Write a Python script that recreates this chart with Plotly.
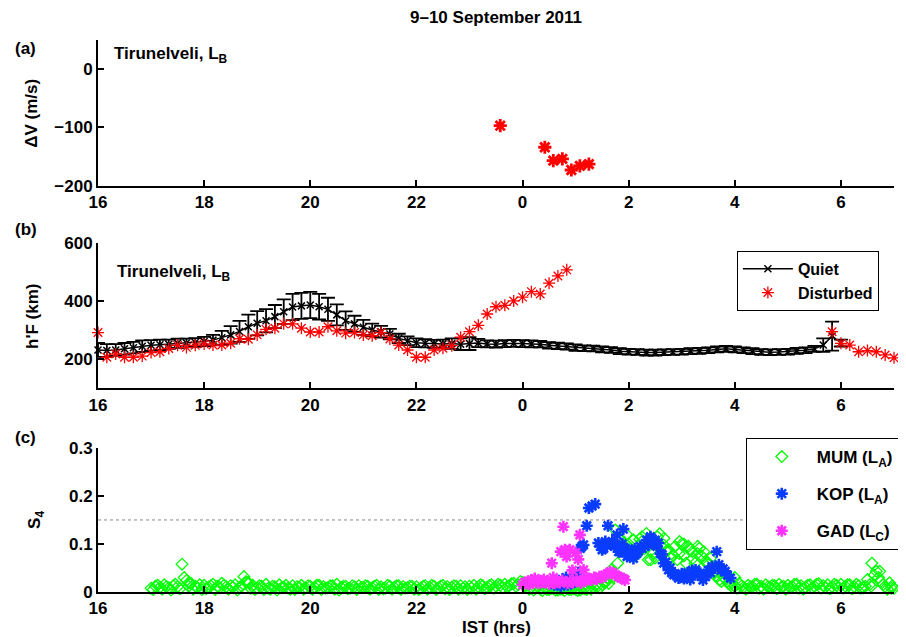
import plotly.graph_objects as go

# ---------------- data ----------------
tick_vals = [16, 18, 20, 22, 24, 26, 28, 30]
tick_text = ["16", "18", "20", "22", "0", "2", "4", "6"]

# (a) Delta V, Tirunelveli
dv_time = [23.58, 24.42, 24.58, 24.75, 24.92, 25.08, 25.25]
dv_vals = [-97, -134, -157, -154, -173, -166, -163]

# (b) h'F quiet (10-min, 16:00 -> 06:00)
quiet_start, quiet_step = 16.0, 1 / 6
quiet_hf = [232, 230, 232, 236, 240, 245, 248, 250, 252, 255, 256, 258,
            261, 266, 274, 284, 296, 312, 324, 333, 347, 364, 380, 384,
            387, 381, 372, 353, 333, 322, 310, 301, 295, 287, 272, 264,
            257, 255, 253, 253, 254, 252, 254, 256, 253, 252, 254, 255,
            254, 253, 252, 248, 246, 244, 240, 238, 237, 234, 232, 228,
            226, 225, 223, 223, 224, 225, 226, 228, 229, 231, 234, 236,
            234, 231, 228, 225, 224, 225, 226, 229, 231, 236, 249, 280, 256]
quiet_err = [24, 22, 20, 20, 20, 20, 18, 18, 16, 16, 15, 15,
             16, 18, 24, 30, 36, 42, 42, 40, 40, 42, 45, 45,
             45, 44, 40, 36, 32, 28, 26, 22, 20, 18, 16, 15,
             15, 14, 14, 15, 18, 20, 22, 14, 12, 12, 12, 12,
             12, 12, 11, 11, 11, 11, 11, 10, 10, 10, 10, 10,
             10, 10, 10, 10, 10, 10, 10, 10, 10, 10, 10, 10,
             10, 10, 10, 10, 10, 10, 10, 10, 10, 10, 23, 50, 12]

# (b) h'F disturbed (10-min)
dist_start1 = 16.0
dist_hf1 = [292, 207, 218, 207, 207, 211, 223, 226, 237, 248, 241, 248,
            253, 249, 249, 255, 271, 269, 284, 303, 307, 322, 322, 307,
            294, 294, 312, 298, 290, 292, 284, 281, 292, 270, 249, 232,
            207, 207, 232, 238, 247, 276, 295, 317, 356, 381, 386, 401,
            414, 433, 425, 462, 487, 508]
dist_start2 = 29 + 5 / 6
dist_hf2 = [295, 255, 249, 226, 230, 226, 215, 205]

# (c) S4 MUM (5-min samples from 17:00, plus interleaved samples from 17:02:30)
mum_start, mum_step = 17.0, 1 / 12
mum_s4 = [
    0.008, 0.012, 0.010, 0.015, 0.009, 0.013, 0.011, 0.058, 0.024, 0.018, 0.012, 0.015,
    0.014, 0.010, 0.016, 0.012, 0.018, 0.011, 0.013, 0.015, 0.010, 0.032, 0.020, 0.014,
    0.009, 0.012, 0.016, 0.006, 0.011, 0.015, 0.010, 0.008, 0.013, 0.011, 0.014, 0.009,
    0.012, 0.010, 0.014, 0.011, 0.009, 0.013, 0.016, 0.010, 0.012, 0.008, 0.011, 0.013,
    0.010, 0.012, 0.009, 0.014, 0.011, 0.008, 0.012, 0.010, 0.013, 0.011, 0.009, 0.012,
    0.011, 0.008, 0.013, 0.010, 0.012, 0.009, 0.014, 0.011, 0.010, 0.012, 0.013, 0.011,
    0.012, 0.014, 0.011, 0.013, 0.010, 0.015, 0.012, 0.014, 0.016, 0.013, 0.018, 0.015,
    0.020, 0.014, 0.010, 0.008, 0.006, 0.009, 0.005, 0.007, 0.004, 0.006, 0.008, 0.005,
    0.006, 0.004, 0.007, 0.009, 0.010, 0.012, 0.015, 0.022, 0.046, 0.129, 0.112, 0.095,
    0.100, 0.108, 0.081, 0.105, 0.122, 0.067, 0.071, 0.121, 0.112, 0.088, 0.077, 0.067,
    0.100, 0.060, 0.088, 0.060, 0.091, 0.084, 0.057, 0.039, 0.032, 0.022, 0.026, 0.015,
    0.012, 0.018, 0.010, 0.014, 0.011, 0.016, 0.012, 0.015, 0.010, 0.013, 0.016, 0.012,
    0.014, 0.011, 0.016, 0.013, 0.010, 0.015, 0.012, 0.017, 0.013, 0.015, 0.011, 0.014,
    0.016, 0.012, 0.015, 0.011, 0.013, 0.009, 0.026, 0.060, 0.043, 0.022, 0.012, 0.019,
    0.008]
mum_start_b = 17.0 + 1 / 24
mum_s4_b = [
    0.005, 0.014, 0.006, 0.011, 0.004, 0.016, 0.007, 0.030, 0.012, 0.006, 0.009, 0.005,
    0.007, 0.013, 0.005, 0.009, 0.014, 0.006, 0.010, 0.004, 0.012, 0.022, 0.008, 0.005,
    0.013, 0.005, 0.008, 0.012, 0.004, 0.009, 0.014, 0.006, 0.005, 0.010, 0.006, 0.013,
    0.006, 0.014, 0.005, 0.008, 0.013, 0.006, 0.004, 0.012, 0.007, 0.013, 0.005, 0.009,
    0.013, 0.006, 0.012, 0.005, 0.007, 0.014, 0.006, 0.013, 0.005, 0.008, 0.012, 0.006,
    0.005, 0.012, 0.006, 0.014, 0.005, 0.012, 0.007, 0.005, 0.013, 0.006, 0.008, 0.005,
    0.008, 0.006, 0.015, 0.007, 0.013, 0.008, 0.016, 0.009, 0.011, 0.017, 0.012, 0.022,
    0.012, 0.006, 0.004, 0.010, 0.003, 0.005, 0.008, 0.004, 0.006, 0.003, 0.005, 0.007,
    0.003, 0.008, 0.005, 0.006, 0.013, 0.009, 0.020, 0.018, 0.030, 0.060, 0.100, 0.120,
    0.090, 0.075, 0.110, 0.090, 0.100, 0.080, 0.115, 0.095, 0.085, 0.070, 0.095, 0.105,
    0.075, 0.095, 0.070, 0.080, 0.075, 0.065, 0.070, 0.045, 0.025, 0.030, 0.018, 0.010,
    0.008, 0.012, 0.006, 0.011, 0.016, 0.008, 0.006, 0.011, 0.014, 0.007, 0.010, 0.006,
    0.010, 0.016, 0.008, 0.006, 0.014, 0.009, 0.016, 0.008, 0.010, 0.007, 0.016, 0.009,
    0.008, 0.015, 0.007, 0.016, 0.008, 0.012, 0.015, 0.035, 0.030, 0.015, 0.006, 0.012]
mum_extra_t = [17.71, 18.80, 25.55, 25.60, 25.84, 26.09, 26.25, 26.37, 26.50, 26.66,
               26.95, 27.04, 27.20, 27.30, 27.48, 27.55, 28.00, 30.42, 30.57, 30.73, 30.95]
mum_extra_v = [0.019, 0.020, 0.020, 0.030, 0.112, 0.108, 0.115, 0.067, 0.100, 0.098,
               0.080, 0.100, 0.084, 0.095, 0.060, 0.050, 0.030, 0.009, 0.012, 0.043, 0.008]

# (c) S4 KOP
kop_t = [24.60, 24.65, 24.68, 24.72, 24.75, 24.78, 24.82, 24.85, 24.88, 24.92,
         24.96, 25.00, 25.02, 25.05, 25.09, 25.12, 25.15, 25.21, 25.25, 25.31,
         25.37, 25.43, 25.47, 25.50, 25.53, 25.56, 25.61, 25.65, 25.69, 25.73,
         25.78, 25.81, 25.84, 25.88, 25.90, 25.94, 25.97, 26.00, 26.04, 26.09,
         26.12, 26.15, 26.18, 26.22, 26.25, 26.31, 26.34, 26.37, 26.41, 26.44,
         26.47, 26.50, 26.53, 26.56, 26.60, 26.63, 26.66, 26.70, 26.75, 26.78,
         26.81, 26.85, 26.90, 26.94, 27.00, 27.04, 27.07, 27.11, 27.16, 27.20,
         27.23, 27.26, 27.30, 27.35, 27.40, 27.45, 27.50, 27.54, 27.57, 27.62,
         27.66, 27.70, 27.74, 27.78, 27.82, 27.86, 27.92]
kop_s4 = [0.015, 0.020, 0.019, 0.012, 0.026, 0.022, 0.030, 0.015, 0.024, 0.018,
          0.022, 0.030, 0.027, 0.040, 0.091, 0.095, 0.098, 0.138, 0.175, 0.179,
          0.183, 0.102, 0.095, 0.088, 0.091, 0.105, 0.138, 0.100, 0.105, 0.095,
          0.119, 0.084, 0.084, 0.100, 0.131, 0.090, 0.074, 0.077, 0.085, 0.070,
          0.090, 0.080, 0.084, 0.095, 0.091, 0.095, 0.108, 0.098, 0.115, 0.110,
          0.102, 0.108, 0.095, 0.102, 0.080, 0.078, 0.060, 0.062, 0.046, 0.050,
          0.040, 0.036, 0.035, 0.029, 0.038, 0.028, 0.032, 0.040, 0.026, 0.045,
          0.040, 0.046, 0.036, 0.039, 0.025, 0.032, 0.045, 0.040, 0.053, 0.050,
          0.084, 0.057, 0.045, 0.048, 0.043, 0.035, 0.029]

# (c) S4 GAD
gad_t = [24.00, 24.04, 24.07, 24.10, 24.13, 24.17, 24.20, 24.23, 24.27, 24.30,
         24.33, 24.37, 24.40, 24.43, 24.47, 24.50, 24.55, 24.58, 24.60, 24.65,
         24.70, 24.72, 24.75, 24.77, 24.80, 24.83, 24.85, 24.89, 24.90, 24.94,
         24.95, 25.00, 25.02, 25.05, 25.08, 25.10, 25.15, 25.17, 25.20, 25.25,
         25.30, 25.35, 25.40, 25.45, 25.50, 25.55, 25.60, 25.65, 25.70, 25.75,
         25.80, 25.85, 25.90, 25.93]
gad_s4 = [0.015, 0.020, 0.018, 0.022, 0.016, 0.025, 0.019, 0.028, 0.020, 0.024,
          0.018, 0.022, 0.026, 0.020, 0.023, 0.017, 0.060, 0.030, 0.018, 0.022,
          0.020, 0.084, 0.024, 0.136, 0.088, 0.074, 0.018, 0.088, 0.023, 0.045,
          0.020, 0.082, 0.025, 0.068, 0.119, 0.019, 0.046, 0.026, 0.024, 0.028,
          0.025, 0.030, 0.027, 0.032, 0.030, 0.035, 0.038, 0.042, 0.040, 0.036,
          0.032, 0.030, 0.028, 0.025]

s4_threshold = 0.15

# ---------------- figure ----------------
FONT = "Liberation Sans, Arial, Helvetica, sans-serif"
quiet_t = [quiet_start + i * quiet_step for i in range(len(quiet_hf))]
dist_t = ([dist_start1 + i / 6 for i in range(len(dist_hf1))] +
          [dist_start2 + i / 6 for i in range(len(dist_hf2))])
dist_hf = dist_hf1 + dist_hf2
mum_t = ([mum_start + i * mum_step for i in range(len(mum_s4))] +
         [mum_start_b + i * mum_step for i in range(len(mum_s4_b))] + mum_extra_t)
mum_v = mum_s4 + mum_s4_b + mum_extra_v

RED = "#ff0000"
GREEN = "#00ff00"
BLUE = "#0a3cff"
MAGENTA = "#ff33ff"

fig = go.Figure()

fig.add_trace(go.Scatter(
    x=dv_time, y=dv_vals, mode="markers", xaxis="x", yaxis="y",
    marker=dict(symbol="asterisk-open", size=11, color=RED,
                line=dict(color=RED, width=2.8)),
    showlegend=False, cliponaxis=False))

fig.add_trace(go.Scatter(
    x=quiet_t, y=quiet_hf, mode="lines+markers", name="Quiet", xaxis="x2", yaxis="y2",
    line=dict(color="black", width=1.5),
    marker=dict(symbol="x-thin-open", size=7, color="black",
                line=dict(color="black", width=1.5)),
    error_y=dict(type="data", array=quiet_err, visible=True, color="black",
                 thickness=1.8, width=7),
    legend="legend", cliponaxis=False))

fig.add_trace(go.Scatter(
    x=dist_t, y=dist_hf, mode="markers", name="Disturbed", xaxis="x2", yaxis="y2",
    marker=dict(symbol="asterisk-open", size=10, color=RED,
                line=dict(color=RED, width=1.3)),
    legend="legend", cliponaxis=False))

fig.add_trace(go.Scatter(
    x=mum_t, y=mum_v, mode="markers", name="MUM (L<sub>A</sub>)", xaxis="x3", yaxis="y3",
    marker=dict(symbol="diamond-open", size=9, color=GREEN,
                line=dict(color=GREEN, width=1.3)),
    legend="legend2", legendgroup="mum", cliponaxis=False))

fig.add_trace(go.Scatter(
    x=kop_t, y=kop_s4, mode="markers", name="KOP (L<sub>A</sub>)", xaxis="x3", yaxis="y3",
    marker=dict(symbol="asterisk-open", size=10, color=BLUE,
                line=dict(color=BLUE, width=2.6)),
    legend="legend2", legendgroup="kop", cliponaxis=False))

fig.add_trace(go.Scatter(
    x=gad_t, y=gad_s4, mode="markers", name="GAD (L<sub>C</sub>)", xaxis="x3", yaxis="y3",
    marker=dict(symbol="asterisk-open", size=10, color=MAGENTA,
                line=dict(color=MAGENTA, width=2.6)),
    legend="legend2", legendgroup="gad", cliponaxis=False))

tickfont = dict(family=FONT, size=17, color="black", weight="bold")
common_x = dict(range=[16, 31], tickvals=tick_vals, ticktext=tick_text,
                showline=True, linecolor="black", linewidth=2, ticks="inside",
                ticklen=6, tickwidth=2, tickcolor="black", showgrid=False,
                zeroline=False, tickfont=tickfont, domain=[0, 1])
common_y = dict(showline=True, linecolor="black", linewidth=2, ticks="inside",
                ticklen=6, tickwidth=2, tickcolor="black", showgrid=False,
                zeroline=False, tickfont=tickfont)

# page body has an 8px margin: figure is 8px smaller, margins shifted accordingly
fig.update_layout(
    width=898, height=629, autosize=False,
    margin=dict(l=90, r=7, t=32, b=45),
    paper_bgcolor="white", plot_bgcolor="white",
    font=dict(family=FONT, size=16, color="black", weight="bold"),
    xaxis=dict(**common_x, anchor="y"),
    xaxis2=dict(**common_x, anchor="y2"),
    xaxis3=dict(**common_x, anchor="y3"),
    yaxis=dict(**common_y, domain=[0.736, 1.0], range=[-200, 50],
               tickvals=[-200, -100, 0], anchor="x"),
    yaxis2=dict(**common_y, domain=[0.369, 0.632], range=[100, 600],
                tickvals=[200, 400, 600], anchor="x2"),
    yaxis3=dict(**common_y, domain=[0, 0.261], range=[0, 0.3],
                tickvals=[0, 0.1, 0.2, 0.3], ticktext=["0", "0.1", "0.2", "0.3"],
                anchor="x3"),
    legend=dict(x=0.981, xanchor="right", y=0.618, yanchor="top",
                bgcolor="white", bordercolor="black", borderwidth=1,
                font=dict(family=FONT, size=16, color="black", weight="bold"),
                itemwidth=50, tracegroupgap=0),
    legend2=dict(x=1.006, xanchor="right", y=0.279, yanchor="top",
                 bgcolor="white", bordercolor="black", borderwidth=1,
                 font=dict(family=FONT, size=17, color="black", weight="bold"),
                 itemwidth=60, traceorder="grouped", tracegroupgap=12),
    shapes=[dict(type="line", xref="x3 domain", yref="y3", x0=0, x1=1,
                 y0=s4_threshold, y1=s4_threshold,
                 line=dict(color="#888888", width=1, dash="dot"), layer="below")],
)

ann_font = dict(family=FONT, size=17, color="black", weight="bold")
annotations = [
    dict(text="9\u201310 September 2011", x=0.5, y=1.04, xref="paper", yref="paper",
         xanchor="center", yanchor="middle", showarrow=False, font=ann_font),
    dict(text="(a)", x=-0.091, y=0.9855, xref="paper", yref="paper",
         xanchor="center", yanchor="middle", showarrow=False, font=ann_font),
    dict(text="(b)", x=-0.091, y=0.6576, xref="paper", yref="paper",
         xanchor="center", yanchor="middle", showarrow=False, font=ann_font),
    dict(text="(c)", x=-0.091, y=0.279, xref="paper", yref="paper",
         xanchor="center", yanchor="middle", showarrow=False, font=ann_font),
    dict(text="Tirunelveli, L<sub>B</sub>", x=0.0175, y=0.972, xref="paper", yref="paper",
         xanchor="left", yanchor="middle", showarrow=False, font=ann_font),
    dict(text="Tirunelveli, L<sub>B</sub>", x=0.021, y=0.578, xref="paper", yref="paper",
         xanchor="left", yanchor="middle", showarrow=False, font=ann_font),
    dict(text="\u0394V (m/s)", x=-0.083, y=0.868, xref="paper", yref="paper",
         xanchor="center", yanchor="middle", textangle=-90, showarrow=False, font=ann_font),
    dict(text="h'F (km)", x=-0.083, y=0.5, xref="paper", yref="paper",
         xanchor="center", yanchor="middle", textangle=-90, showarrow=False, font=ann_font),
    dict(text="S<sub>4</sub>", x=-0.077, y=0.13, xref="paper", yref="paper",
         xanchor="center", yanchor="middle", textangle=-90, showarrow=False, font=ann_font),
    dict(text="IST (hrs)", x=0.5, y=-0.065, xref="paper", yref="paper",
         xanchor="center", yanchor="middle", showarrow=False, font=ann_font),
]
fig.update_layout(annotations=annotations)

fig.write_html("out.html")
